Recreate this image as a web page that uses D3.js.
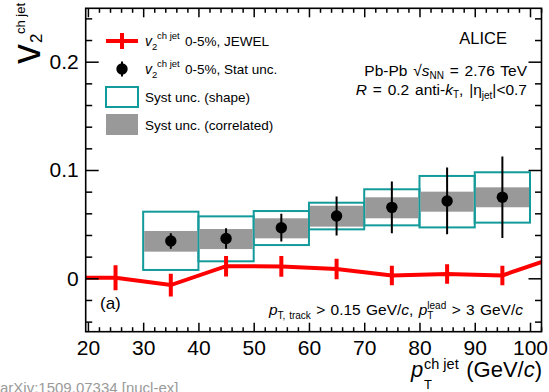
<!DOCTYPE html>
<html lang="en">
<head>
<meta charset="utf-8">
<title>v2 ch jet</title>
<script src="https://d3js.org/d3.v7.min.js"></script>
<style>
  body { margin: 0; background: #fff; }
  svg { display: block; font-family: "Liberation Sans", Arial, Helvetica, sans-serif; }
</style>
</head>
<body>
<div id="viz"></div>
<script>
// ---- data ----
const binEdges = [30, 40, 50, 60, 70, 80, 90, 100];
const v2 = [0.0345, 0.0368, 0.0467, 0.0575, 0.0655, 0.0714, 0.0748];
const statErr = [0.0072, 0.0095, 0.0128, 0.0180, 0.0238, 0.0308, 0.0377];
const shapeLo = [0.0077, 0.0157, 0.0307, 0.0452, 0.0489, 0.0470, 0.0514];
const shapeHi = [0.0615, 0.0572, 0.0621, 0.0698, 0.0822, 0.0945, 0.0979];
const corrLo = [0.0246, 0.0270, 0.0369, 0.0477, 0.0554, 0.0615, 0.0656];
const corrHi = [0.0437, 0.0455, 0.0554, 0.0670, 0.0748, 0.0800, 0.0840];

// JEWEL curve (points outside the frame only carry the line to the edges)
const jewelPt = [15, 25, 35, 45, 55, 65, 75, 85, 95, 105];
const jewelV2 = [0.0005, 0.0005, -0.0062, 0.0112, 0.0110, 0.0086, 0.0027, 0.0040, 0.0027, 0.0200];
const jewelErr = [0.0100, 0.0115, 0.0105, 0.0095, 0.0095, 0.0095, 0.0090, 0.0090, 0.0090, 0.0100];

const xTicks = [20, 30, 40, 50, 60, 70, 80, 90, 100];
const yTicks = [0, 0.1, 0.2];
const yTickLabels = ["0", "0.1", "0.2"];

// ---- layout ----
const W = 549, H = 392;
const frame = {left: 85.7, right: 541.5, top: 8.3, bottom: 331.7};
const teal = "#139a9a", gray = "#999999", red = "#ff0000";

const svg = d3.select("#viz").append("svg")
    .attr("width", W).attr("height", H);

const x = d3.scaleLinear().domain([19.6, 102.08]).range([frame.left, frame.right]);
const y = d3.scaleLinear().domain([-0.0493, 0.2493]).range([frame.bottom, frame.top]);

svg.append("clipPath").attr("id", "clip")
  .append("rect")
    .attr("x", frame.left).attr("y", frame.top)
    .attr("width", frame.right - frame.left).attr("height", frame.bottom - frame.top);

const bins = v2.map((v, i) => ({
  lo: binEdges[i], hi: binEdges[i + 1], c: (binEdges[i] + binEdges[i + 1]) / 2,
  v: v, e: statErr[i], sLo: shapeLo[i], sHi: shapeHi[i], cLo: corrLo[i], cHi: corrHi[i]
}));

const plot = svg.append("g").attr("clip-path", "url(#clip)");

// shape syst boxes
plot.selectAll(".shape").data(bins).join("rect")
    .attr("x", d => x(d.lo)).attr("width", d => x(d.hi) - x(d.lo))
    .attr("y", d => y(d.sHi)).attr("height", d => y(d.sLo) - y(d.sHi))
    .attr("fill", "none").attr("stroke", teal).attr("stroke-width", 2);

// correlated syst bands
plot.selectAll(".corr").data(bins).join("rect")
    .attr("x", d => x(d.lo) + 1).attr("width", d => x(d.hi) - x(d.lo) - 2)
    .attr("y", d => y(d.cHi)).attr("height", d => y(d.cLo) - y(d.cHi))
    .attr("fill", gray);

// stat error bars + points
plot.selectAll(".err").data(bins).join("line")
    .attr("x1", d => x(d.c)).attr("x2", d => x(d.c))
    .attr("y1", d => y(d.v - d.e)).attr("y2", d => y(d.v + d.e))
    .attr("stroke", "#000").attr("stroke-width", 2);
plot.selectAll(".pt").data(bins).join("circle")
    .attr("cx", d => x(d.c)).attr("cy", d => y(d.v)).attr("r", 5.7)
    .attr("fill", "#000");

// JEWEL line
const jewel = jewelPt.map((p, i) => ({p: p, v: jewelV2[i], e: jewelErr[i]}));
plot.append("path").datum(jewel)
    .attr("fill", "none").attr("stroke", red).attr("stroke-width", 4)
    .attr("d", d3.line().x(d => x(d.p)).y(d => y(d.v)));
plot.selectAll(".jerr").data(jewel).join("line")
    .attr("x1", d => x(d.p)).attr("x2", d => x(d.p))
    .attr("y1", d => y(d.v - d.e)).attr("y2", d => y(d.v + d.e))
    .attr("stroke", red).attr("stroke-width", 4);

// ---- axes (ROOT style: ticks inside on all four sides) ----
const xMinor = d3.range(20, 102.1, 2).filter(v => v % 10 !== 0);
const yMinor = d3.range(-4, 25, 2).map(v => v / 100).filter(v => Math.abs(v * 10 - Math.round(v * 10)) > 1e-6);

function styleAxis(g) {
  g.select(".domain").remove();
  g.selectAll("line").attr("stroke", "#000").attr("stroke-width", 1.5);
  g.selectAll("text").attr("font-size", 21).attr("fill", "#000")
    .attr("font-family", "'Liberation Sans', Arial, sans-serif");
}

svg.append("g").attr("transform", `translate(0,${frame.bottom})`)
  .call(d3.axisBottom(x).tickValues(xTicks).tickSize(-9).tickPadding(8.5).tickFormat(d3.format("d")))
  .call(styleAxis);
svg.append("g").attr("transform", `translate(0,${frame.bottom})`)
  .call(d3.axisBottom(x).tickValues(xMinor).tickSize(-4.5).tickFormat(""))
  .call(styleAxis);
svg.append("g").attr("transform", `translate(0,${frame.top})`)
  .call(d3.axisTop(x).tickValues(xTicks).tickSize(-9).tickFormat(""))
  .call(styleAxis);
svg.append("g").attr("transform", `translate(0,${frame.top})`)
  .call(d3.axisTop(x).tickValues(xMinor).tickSize(-4.5).tickFormat(""))
  .call(styleAxis);

svg.append("g").attr("transform", `translate(${frame.left},0)`)
  .call(d3.axisLeft(y).tickValues(yTicks).tickSize(-13).tickPadding(7)
    .tickFormat((d, i) => yTickLabels[i]))
  .call(styleAxis);
svg.append("g").attr("transform", `translate(${frame.left},0)`)
  .call(d3.axisLeft(y).tickValues(yMinor).tickSize(-6.5).tickFormat(""))
  .call(styleAxis);
svg.append("g").attr("transform", `translate(${frame.right},0)`)
  .call(d3.axisRight(y).tickValues(yTicks).tickSize(-13).tickFormat(""))
  .call(styleAxis);
svg.append("g").attr("transform", `translate(${frame.right},0)`)
  .call(d3.axisRight(y).tickValues(yMinor).tickSize(-6.5).tickFormat(""))
  .call(styleAxis);

svg.append("rect")
    .attr("x", frame.left).attr("y", frame.top)
    .attr("width", frame.right - frame.left).attr("height", frame.bottom - frame.top)
    .attr("fill", "none").attr("stroke", "#000").attr("stroke-width", 1.6);

// ---- axis titles ----
const yt = svg.append("g").attr("transform", "translate(40,64) rotate(-90)");
yt.append("text").attr("x", 0).attr("y", 0).attr("font-size", 40).text("v");
yt.append("text").attr("x", 21).attr("y", 2).attr("font-size", 17).text("2");
yt.append("text").attr("x", 30).attr("y", -15).attr("font-size", 13).text("ch jet");

svg.append("text").attr("x", 411).attr("y", 377).attr("font-size", 22)
    .attr("font-style", "italic").text("p");
svg.append("text").attr("x", 424).attr("y", 389).attr("font-size", 13).text("T");
svg.append("text").attr("x", 424).attr("y", 369).attr("font-size", 14.5).text("ch jet");
const xt = svg.append("text").attr("x", 542).attr("y", 377).attr("font-size", 22)
    .attr("text-anchor", "end");
xt.append("tspan").text("(GeV/");
xt.append("tspan").attr("font-style", "italic").text("c");
xt.append("tspan").text(")");

// ---- legend ----
const legendLabels = ["0-5%, JEWEL", "0-5%, Stat unc.", "Syst unc. (shape)", "Syst unc. (correlated)"];
const lx = 106, lw = 32, rowY = [41, 69, 97, 125];
const leg = svg.append("g");
leg.append("line").attr("x1", lx).attr("x2", lx + lw).attr("y1", rowY[0]).attr("y2", rowY[0])
    .attr("stroke", red).attr("stroke-width", 4);
leg.append("line").attr("x1", lx + lw / 2).attr("x2", lx + lw / 2).attr("y1", rowY[0] - 8).attr("y2", rowY[0] + 8)
    .attr("stroke", red).attr("stroke-width", 4);
leg.append("line").attr("x1", lx + lw / 2).attr("x2", lx + lw / 2).attr("y1", rowY[1] - 7.5).attr("y2", rowY[1] + 7.5)
    .attr("stroke", "#000").attr("stroke-width", 2);
leg.append("circle").attr("cx", lx + lw / 2).attr("cy", rowY[1]).attr("r", 5.7).attr("fill", "#000");
leg.append("rect").attr("x", lx).attr("y", rowY[2] - 10).attr("width", lw).attr("height", 20)
    .attr("fill", "none").attr("stroke", teal).attr("stroke-width", 2);
leg.append("rect").attr("x", lx).attr("y", rowY[3] - 11).attr("width", lw).attr("height", 21)
    .attr("fill", gray);

legendLabels.forEach((lab, i) => {
  const by = rowY[i] + 5;
  if (i < 2) {
    leg.append("text").attr("x", 145).attr("y", by).attr("font-size", 14)
        .attr("font-style", "italic").text("v");
    leg.append("text").attr("x", 152).attr("y", by + 4).attr("font-size", 9.5).text("2");
    leg.append("text").attr("x", 157).attr("y", by - 7).attr("font-size", 9.5).text("ch jet");
    leg.append("text").attr("x", 185).attr("y", by).attr("font-size", 13.5).text(lab);
  } else {
    leg.append("text").attr("x", 145).attr("y", by).attr("font-size", 13.5).text(lab);
  }
});

// ---- annotations ----
svg.append("text").attr("x", 507).attr("y", 44).attr("font-size", 16.5)
    .attr("text-anchor", "end").text("ALICE");

const t1 = svg.append("text").attr("x", 527).attr("y", 76).attr("font-size", 15.5)
    .attr("word-spacing", 1.5).attr("text-anchor", "end");
t1.append("tspan").text("Pb-Pb \u221A");
t1.append("tspan").attr("font-style", "italic").text("s");
t1.append("tspan").attr("font-size", 10).attr("dy", 3).text("NN");
t1.append("tspan").attr("dy", -3).text(" = 2.76 TeV");

const t2 = svg.append("text").attr("x", 527).attr("y", 95).attr("font-size", 15.5)
    .attr("word-spacing", 1.5).attr("text-anchor", "end");
t2.append("tspan").attr("font-style", "italic").text("R");
t2.append("tspan").text(" = 0.2 anti-");
t2.append("tspan").attr("font-style", "italic").text("k");
t2.append("tspan").attr("font-size", 10).attr("dy", 3).text("T");
t2.append("tspan").attr("dy", -3).text(", |\u03B7");
t2.append("tspan").attr("font-size", 10).attr("dy", 4).text("jet");
t2.append("tspan").attr("dy", -4).text("|<0.7");

svg.append("text").attr("x", 100).attr("y", 309).attr("font-size", 17).text("(a)");

const t3 = svg.append("text").attr("x", 523).attr("y", 315).attr("font-size", 15.5)
    .attr("word-spacing", 1).attr("text-anchor", "end");
t3.append("tspan").attr("font-style", "italic").text("p");
t3.append("tspan").attr("font-size", 10).attr("dy", 4).text("T, track");
t3.append("tspan").attr("dy", -4).text(" > 0.15 GeV/");
t3.append("tspan").attr("font-style", "italic").text("c");
t3.append("tspan").text(", ");
t3.append("tspan").attr("font-style", "italic").text("p");
t3.append("tspan").attr("font-size", 10).attr("dy", -6).text("lead");
t3.append("tspan").attr("font-size", 10).attr("dx", -19).attr("dy", 10).text("T");
t3.append("tspan").attr("dx", 13).attr("dy", -4).text(" > 3 GeV/");
t3.append("tspan").attr("font-style", "italic").text("c");

svg.append("text").attr("x", 0).attr("y", 393).attr("font-size", 15).attr("fill", "#9a9a9a")
    .text("arXiv:1509.07334 [nucl-ex]");
</script>
</body>
</html>
